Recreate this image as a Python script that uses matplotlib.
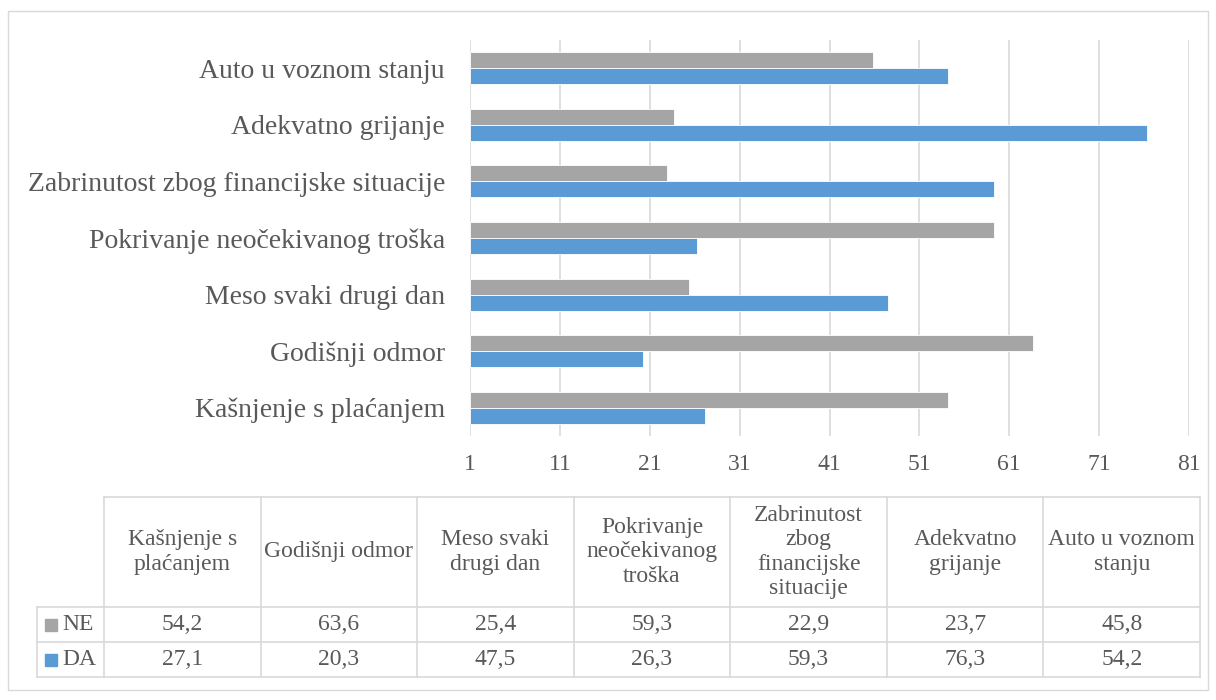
import matplotlib
matplotlib.use("Agg")
import matplotlib.pyplot as plt
import numpy as np

plt.rcParams["font.family"] = ["Liberation Serif", "DejaVu Serif"]

# ---------------------------------------------------------------------------
# Data
# ---------------------------------------------------------------------------
categories = ["Kašnjenje s plaćanjem", "Godišnji odmor", "Meso svaki drugi dan",
              "Pokrivanje neočekivanog troška",
              "Zabrinutost zbog financijske situacije",
              "Adekvatno grijanje", "Auto u voznom stanju"]
table_headers = ["Kašnjenje s\nplaćanjem", "Godišnji odmor", "Meso svaki\ndrugi dan",
                 "Pokrivanje\nneočekivanog\ntroška",
                 "Zabrinutost\nzbog\nfinancijske\nsituacije",
                 "Adekvatno\ngrijanje", "Auto u voznom\nstanju"]
ne_values = [54.2, 63.6, 25.4, 59.3, 22.9, 23.7, 45.8]
da_values = [27.1, 20.3, 47.5, 26.3, 59.3, 76.3, 54.2]
series_names = ["NE", "DA"]
x_ticks = [1, 11, 21, 31, 41, 51, 61, 71, 81]

GRAY = "#A5A5A5"
BLUE = "#5B9BD5"
GRID = "#D9D9D9"
TEXT = "#595959"
W, H = 1216, 700

fig = plt.figure(figsize=(W / 100, H / 100), dpi=100)

# background axes in pixel coordinates (border + data table)
bg = fig.add_axes([0, 0, 1, 1])
bg.set_xlim(0, W)
bg.set_ylim(H, 0)
bg.axis("off")
bg.add_patch(plt.Rectangle((8, 11), 1200, 679, fill=False, ec=GRID, lw=1.0))

# ---------------------------------------------------------------------------
# Bar chart
# ---------------------------------------------------------------------------
left, right, top, bottom = 470, 1189, 40, 436
ax = fig.add_axes([left / W, 1 - bottom / H, (right - left) / W, (bottom - top) / H])

y = np.arange(len(categories))
bh = 0.283
x0 = x_ticks[0]
ax.barh(y + bh / 2, np.array(ne_values) - x0, left=x0, height=bh,
        color=GRAY, edgecolor="white", linewidth=0.6, zorder=3)
ax.barh(y - bh / 2, np.array(da_values) - x0, left=x0, height=bh,
        color=BLUE, edgecolor="white", linewidth=0.6, zorder=3)

ax.set_xlim(x_ticks[0], x_ticks[-1])
ax.set_ylim(-0.5, len(categories) - 0.5)
ax.set_xticks(x_ticks)
ax.set_xticklabels([str(t) for t in x_ticks], fontsize=17, color=TEXT)
ax.set_yticks(y)
ax.set_yticklabels(categories, fontsize=20, color=TEXT)
ax.tick_params(axis="x", length=0, pad=13)
ax.tick_params(axis="y", length=0, pad=18)
ax.xaxis.grid(True, color=GRID, lw=1.2, zorder=0)
for s in ax.spines.values():
    s.set_visible(False)
ax.set_axisbelow(True)

# ---------------------------------------------------------------------------
# Data table
# ---------------------------------------------------------------------------
t_left, t_col0, t_right = 37, 104, 1200
t_top, t_hdr, t_mid, t_bot = 497, 607, 642, 677
ncol = len(table_headers)
col_edges = np.linspace(t_col0, t_right, ncol + 1)
lw = 1.2

bg.plot([t_col0, t_right], [t_top, t_top], color=GRID, lw=lw)
for yy in (t_hdr, t_mid, t_bot):
    bg.plot([t_left, t_right], [yy, yy], color=GRID, lw=lw)
bg.plot([t_left, t_left], [t_hdr, t_bot], color=GRID, lw=lw)
for xx in col_edges:
    bg.plot([xx, xx], [t_top, t_bot], color=GRID, lw=lw)

centers = (col_edges[:-1] + col_edges[1:]) / 2
for cx, lab in zip(centers, table_headers):
    bg.text(cx, (t_top + t_hdr) / 2, lab, ha="center", va="center",
            fontsize=17, color=TEXT, linespacing=1.22)

rows = [(ne_values, GRAY, (t_hdr + t_mid) / 2), (da_values, BLUE, (t_mid + t_bot) / 2)]
for name, (vals, col, cy) in zip(series_names, rows):
    bg.add_patch(plt.Rectangle((45, cy - 6), 12, 12, color=col))
    bg.text(62, cy, name, ha="left", va="center", fontsize=17, color=TEXT)
    for cx, v in zip(centers, vals):
        bg.text(cx, cy, f"{v:.1f}".replace(".", ","), ha="center", va="center",
                fontsize=17, color=TEXT)

fig.savefig("out.png", dpi=100)
